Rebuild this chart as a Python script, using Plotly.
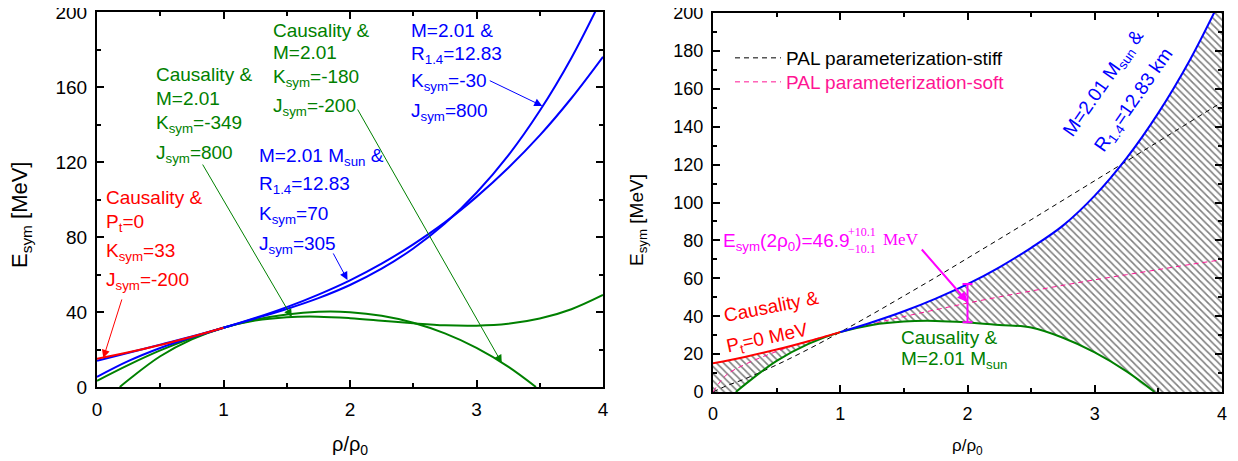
import numpy as np
import plotly.graph_objects as go

# The page body has an 8px margin, so the figure is drawn 8px in from the
# window corner; all layout positions below are given in window pixels.
OFF = 8
W, H = 1238 - OFF, 461 - OFF
FONT = "Liberation Sans, Arial, sans-serif"
SERIF = "Liberation Serif, Times New Roman, serif"

RED, GREEN, BLUE = "#FF0000", "#008000", "#0000FF"
MAGENTA, PINK = "#FF00FF", "#FF1493"

# ---------------- data ----------------
rho_grid = [0, 0.25, 0.5, 0.75, 1.0, 1.25, 1.5, 1.75, 2.0, 2.25, 2.5, 2.75, 3.0, 3.25, 3.5, 3.75, 4.0]

# Causality & Pt=0 (Ksym=33, Jsym=-200)
rho_red = [0, 0.25, 0.5, 0.75, 1.0]
esym_red = [15.1, 18.5, 22.4, 26.8, 31.6]

# M=2.01 & R1.4=12.83, Ksym=-30, Jsym=800
esym_blue_a = [5.4, 13.9, 20.8, 26.5, 31.6, 36.5, 41.6, 47.4, 54.4, 63.1, 73.9,
               87.2, 103.6, 123.4, 147.3, 175.5, 208.6]
# M=2.01 Msun & R1.4=12.83, Ksym=70, Jsym=305
esym_blue_b = [14.0, 18.3, 22.6, 26.9, 31.6, 36.8, 42.6, 49.3, 56.9, 65.8, 76.1,
               87.8, 101.4, 116.8, 134.2, 154.0, 176.1]

# Causality & M=2.01, Ksym=-349, Jsym=800
rho_green_a = [0.18, 0.25, 0.5, 0.75, 1.0, 1.25, 1.5, 1.75, 2.0, 2.25, 2.5, 2.75,
               3.0, 3.25, 3.5, 3.75, 4.0]
esym_green_a = [0.0, 3.9, 16.4, 25.4, 31.6, 35.4, 37.2, 37.5, 36.7, 35.4, 34.0,
                32.9, 32.7, 33.7, 36.5, 41.5, 49.1]
# Causality & M=2.01, Ksym=-180, Jsym=-200
rho_green_b = [0, 0.25, 0.5, 0.75, 1.0, 1.25, 1.5, 1.75, 2.0, 2.25, 2.5, 2.75,
               3.0, 3.25, 3.47]
esym_green_b = [3.3, 11.8, 19.5, 26.1, 31.6, 35.9, 38.7, 40.1, 39.9, 38.0, 34.3,
                28.6, 20.9, 10.9, 0.0]

# PAL parameterizations
rho_pal = [0, 0.1, 0.25, 0.5, 0.75, 1.0, 1.25, 1.5, 1.75, 2.0, 2.25, 2.5, 2.75,
           3.0, 3.25, 3.5, 3.75, 4.0]
esym_pal_stiff = [0, 3.1, 6.9, 14.3, 22.6, 31.6, 41.0, 50.7, 60.5, 70.6, 80.7,
                  90.9, 101.2, 111.5, 121.8, 132.2, 142.6, 153.0]
esym_pal_soft = [0, 8.7, 14.5, 21.4, 26.9, 31.6, 35.9, 39.8, 43.4, 46.9, 50.2,
                 53.3, 56.3, 59.2, 61.9, 64.6, 67.3, 69.8]

# Esym(2 rho0) constraint
rho_err = [2.0]
esym_err = [46.9]
esym_err_plus = [10.1]

# ---------------- derived bounds for the right panel ----------------
blue_env = np.maximum(np.array(esym_blue_a), np.array(esym_blue_b))
x_upper = list(rho_grid)
y_upper = list(esym_red[:4]) + list(blue_env[4:])

x_lower = [0.0] + rho_green_a[:11] + rho_green_b[11:] + [4.0]
y_lower = [0.0] + esym_green_a[:11] + esym_green_b[11:] + [0.0]


def PX(px):
    return (px - OFF) / W


def PY(py):
    return 1 - (py - OFF) / H


fig = go.Figure()


def line(x, y, color, xa="x", ya="y", width=2, dash=None, name=None, legend=None, show=False):
    return go.Scatter(x=x, y=y, mode="lines", xaxis=xa, yaxis=ya,
                      line=dict(color=color, width=width, dash=dash, shape="spline", smoothing=1),
                      name=name, showlegend=show, legend=legend, hoverinfo="skip")


# ---------------- left panel ----------------
fig.add_trace(line(rho_green_a, esym_green_a, GREEN))
fig.add_trace(line(rho_green_b, esym_green_b, GREEN))
fig.add_trace(line(rho_grid, esym_blue_a, BLUE))
fig.add_trace(line(rho_grid, esym_blue_b, BLUE))
fig.add_trace(line(rho_red, esym_red, RED))

# ---------------- right panel ----------------
fig.add_trace(go.Scatter(x=x_lower, y=y_lower, mode="lines", xaxis="x2", yaxis="y2",
                         line=dict(width=0, shape="spline"), showlegend=False, hoverinfo="skip"))
fig.add_trace(go.Scatter(x=x_upper, y=y_upper, mode="lines", xaxis="x2", yaxis="y2",
                         line=dict(width=0, shape="spline"), fill="tonexty",
                         fillcolor="rgba(255,255,255,0)",
                         fillpattern=dict(shape="\\", fgcolor="black", bgcolor="rgba(255,255,255,0)",
                                          size=5, solidity=0.32),
                         showlegend=False, hoverinfo="skip"))

fig.add_trace(line(rho_pal, esym_pal_stiff, "black", "x2", "y2", width=1, dash="5px,4px",
                   name="PAL parameterization-stiff", legend="legend", show=True))
fig.add_trace(line(rho_pal, esym_pal_soft, PINK, "x2", "y2", width=1, dash="5px,4px",
                   name="<span style='color:%s'>PAL parameterization-soft</span>" % PINK,
                   legend="legend2", show=True))

fig.add_trace(line(x_lower[1:-1], y_lower[1:-1], GREEN, "x2", "y2"))
fig.add_trace(line(x_upper[4:], y_upper[4:], BLUE, "x2", "y2"))
fig.add_trace(line(rho_red, esym_red, RED, "x2", "y2"))

fig.add_trace(go.Scatter(x=rho_err, y=esym_err, mode="markers", xaxis="x2", yaxis="y2",
                         marker=dict(size=1, color="rgba(0,0,0,0)"),
                         error_y=dict(type="data", array=esym_err_plus, color=MAGENTA,
                                      thickness=2, width=5),
                         showlegend=False, hoverinfo="skip"))


# ---------------- axes ----------------
def xax(domain, anchor, fs):
    return dict(domain=domain, anchor=anchor, range=[0, 4], dtick=1, tick0=0,
                showline=True, linewidth=2, linecolor="black", mirror="ticks",
                ticks="inside", ticklen=7, tickwidth=1.5, tickcolor="black",
                minor=dict(ticks="inside", dtick=0.5, ticklen=4, tickwidth=1.5, tickcolor="black"),
                showgrid=False, zeroline=False, automargin=False, ticklabeloverflow="allow",
                tickfont=dict(family=FONT, size=fs, color="black"), ticklabelstandoff=4)


def yax(domain, anchor, dt, mdt, fs):
    return dict(domain=domain, anchor=anchor, range=[0, 200], dtick=dt, tick0=0,
                showline=True, linewidth=2, linecolor="black", mirror="ticks",
                ticks="inside", ticklen=7, tickwidth=1.5, tickcolor="black",
                minor=dict(ticks="inside", dtick=mdt, ticklen=4, tickwidth=1.5, tickcolor="black"),
                showgrid=False, zeroline=False, automargin=False, ticklabeloverflow="allow",
                tickfont=dict(family=FONT, size=fs, color="black"), ticklabelstandoff=4)


fig.update_layout(
    width=W, height=H, margin=dict(l=0, r=0, t=0, b=0, pad=0, autoexpand=False),
    paper_bgcolor="white", plot_bgcolor="white",
    xaxis=xax([PX(97), PX(603)], "y", 19),
    yaxis=yax([PY(387), PY(12)], "x", 40, 20, 19),
    xaxis2=xax([PX(713), PX(1222)], "y2", 18),
    yaxis2=yax([PY(392), PY(13)], "x2", 20, 10, 18),
    legend=dict(x=PX(730), y=PY(58), xanchor="left", yanchor="middle",
                bgcolor="rgba(0,0,0,0)", font=dict(family=FONT, size=19, color="black"),
                itemwidth=46),
    legend2=dict(x=PX(730), y=PY(82), xanchor="left", yanchor="middle",
                 bgcolor="rgba(0,0,0,0)", font=dict(family=FONT, size=19, color=PINK),
                 itemwidth=46),
)


# ---------------- annotations ----------------
def ptext(px, py, s, color, size=19, xanchor="left", angle=0, family=FONT):
    return dict(x=PX(px), y=PY(py), xref="paper", yref="paper", text=s, showarrow=False,
                xanchor=xanchor, yanchor="middle", textangle=angle, borderpad=0,
                font=dict(family=family, size=size, color=color))


def arrow(xr, yr, x, y, ax, ay, color, width=1, size=1.6):
    return dict(x=x, y=y, xref=xr, yref=yr, ax=ax, ay=ay, text="", showarrow=True,
                arrowhead=2, arrowsize=size, arrowwidth=width, arrowcolor=color,
                standoff=0, startstandoff=0)


S = "<sub>sym</sub>"
ann = []
# axis titles
ann.append(ptext(21, 215, "E%s [MeV]" % S, "black", 22, "center", -90))
ann.append(ptext(350, 445, "ρ/ρ<sub>0</sub>", "black", 20, "center"))
ann.append(ptext(638, 220, "E%s [MeV]" % S, "black", 19, "center", -90))
ann.append(ptext(967, 447, "ρ/ρ<sub>0</sub>", "black", 17, "center"))

# left panel labels
groups = [
    (105, RED, [("Causality &", 197), ("P<sub>t</sub>=0", 223), ("K%s=33" % S, 252), ("J%s=-200" % S, 281)]),
    (155, GREEN, [("Causality &", 75), ("M=2.01", 98), ("K%s=-349" % S, 124), ("J%s=800" % S, 154)]),
    (272, GREEN, [("Causality &", 30), ("M=2.01", 53), ("K%s=-180" % S, 78), ("J%s=-200" % S, 107)]),
    (410, BLUE, [("M=2.01 &", 30), ("R<sub>1.4</sub>=12.83", 55), ("K%s=-30" % S, 82), ("J%s=800" % S, 112)]),
    (258, BLUE, [("M=2.01 M<sub>sun</sub> &", 157), ("R<sub>1.4</sub>=12.83", 185), ("K%s=70" % S, 215), ("J%s=305" % S, 245)]),
]
for px, col, lines in groups:
    for s, py in lines:
        ann.append(ptext(px, py, s, col))

ann.append(arrow("x", "y", 0.05, 15.5, 19, -60, RED))
ann.append(arrow("x", "y", 1.54, 37.3, -90, -154, GREEN))
ann.append(arrow("x", "y", 3.20, 12.8, -145, -255, GREEN))
ann.append(arrow("x", "y", 3.52, 149.9, -54, -26, BLUE))
ann.append(arrow("x", "y", 1.98, 57.1, -15, -28, BLUE))

# right panel labels
ann.append(ptext(771, 306, "Causality &", RED, 19, "center", -11))
ann.append(ptext(767, 339, "P<sub>t</sub>=0 MeV", RED, 19, "center", -12))
ann.append(ptext(900, 337, "Causality &", GREEN))
ann.append(ptext(900, 360, "M=2.01 M<sub>sun</sub>", GREEN))
ann.append(ptext(1104, 84, "M=2.01 M<sub>sun</sub> &", BLUE, 19, "center", -55))
ann.append(ptext(1134, 101, "R<sub>1.4</sub>=12.83 km", BLUE, 19, "center", -55))

ann.append(ptext(722, 242, "E%s(2ρ<sub>0</sub>)=46.9" % S, MAGENTA, 19))
ann.append(ptext(847, 232, "+10.1", MAGENTA, 12, "left", 0, SERIF))
ann.append(ptext(847, 249, "\u221210.1", MAGENTA, 12, "left", 0, SERIF))
ann.append(ptext(882, 240, "MeV", MAGENTA, 17, "left", 0, SERIF))
ann.append(arrow("x2", "y2", 2.0, 47.5, -47, -54, MAGENTA, width=2, size=1.0))

fig.update_layout(annotations=ann)

fig.write_html("out.html")
